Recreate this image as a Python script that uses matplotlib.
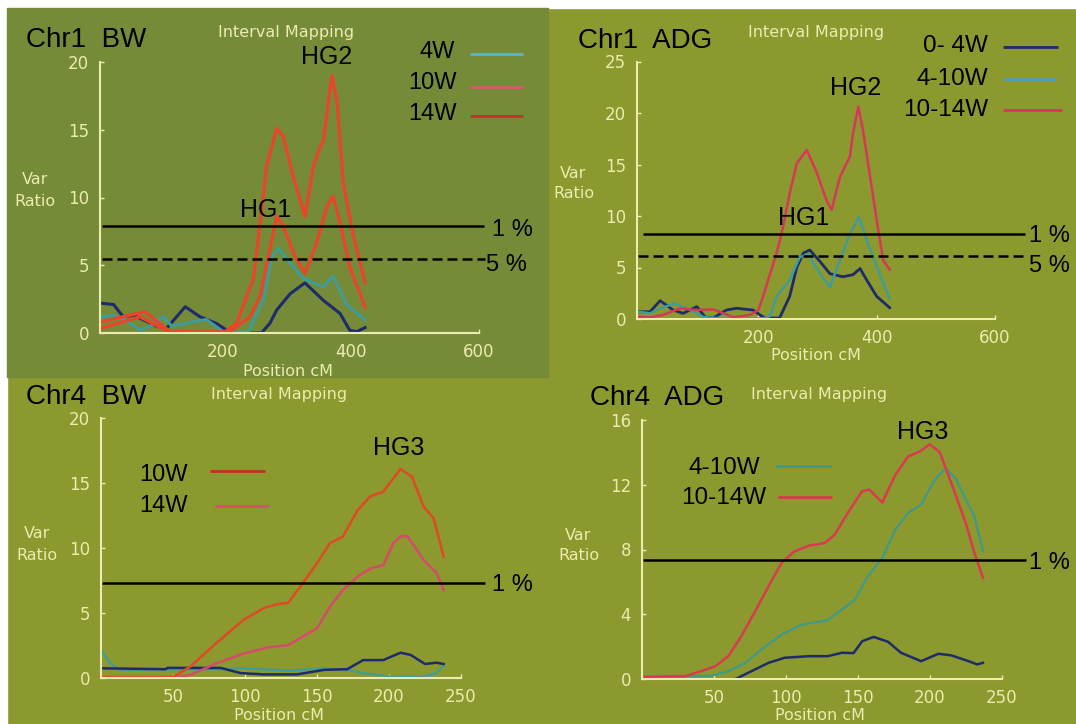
import matplotlib
matplotlib.use('Agg')
import matplotlib.pyplot as plt
from matplotlib.lines import Line2D
from matplotlib.patches import Rectangle
import numpy as np

W, H = 1076, 724
BG = '#8c992e'
BG1 = '#768b38'
PALE = '#ecebb0'
NAVY = '#1d2b6b'
TEAL = '#3f9c98'
ORANGE = '#e8462a'
PINKRED = '#d8365a'
RED10 = '#df4a26'
PINK14 = '#d64a6c'

# ---------------- data ----------------
# Chr1 BW
p1_14w_x = [10, 70, 112, 174, 200, 221, 237, 247, 253, 268, 284, 294, 310, 328, 341, 352, 357, 365, 370, 378, 388, 404, 422]
p1_14w_y = [0.35, 1.2, 0.15, 0.05, 0.0, 0.7, 2.7, 3.9, 6.1, 12.3, 15.1, 14.5, 11.5, 8.6, 12.3, 13.75, 14.2, 17.2, 19.0, 17.2, 11.0, 7.1, 3.7]
p1_10w_x = [10, 78, 117, 160, 211, 242, 258, 268, 284, 294, 310, 328, 346, 362, 372, 383, 398, 422]
p1_10w_y = [0.83, 1.57, 0.1, 0.05, 0.1, 1.2, 2.7, 5.0, 8.6, 7.9, 5.9, 4.4, 6.6, 9.3, 10.1, 8.1, 4.9, 1.9]
p1_4w_x = [10, 30, 50, 70, 90, 107, 120, 150, 174, 201, 240, 253, 263, 276, 286, 305, 326, 357, 372, 393, 422]
p1_4w_y = [1.2, 1.3, 0.9, 0.2, 0.6, 1.2, 0.5, 0.8, 1.0, 0.05, 0.1, 1.45, 2.4, 5.6, 6.25, 5.15, 4.0, 3.4, 4.2, 2.1, 0.96]
p1_nv_x = [10, 29, 44, 60, 70, 96, 112, 141, 164, 190, 206, 221, 260, 273, 284, 305, 328, 357, 383, 398, 409, 422]
p1_nv_y = [2.2, 2.1, 1.2, 1.3, 1.1, 0.5, 0.35, 1.94, 1.2, 0.7, 0.2, 0.0, 0.0, 0.7, 1.7, 2.9, 3.7, 2.4, 1.44, 0.2, 0.1, 0.4]

# Chr1 ADG
p2_1014_x = [-3, 17, 39, 68, 96, 124, 141, 158, 186, 200, 208, 220, 231, 242, 253, 265, 282, 299, 315, 324, 338, 355, 360, 369, 377, 389, 400, 411, 422]
p2_1014_y = [0.22, 0.16, 0.4, 1.04, 0.87, 0.93, 0.55, 0.17, 0.4, 0.87, 2.17, 4.4, 6.4, 8.96, 12.2, 15.1, 16.4, 14.2, 11.55, 10.6, 13.8, 15.8, 18.0, 20.6, 18.3, 13.8, 9.6, 5.7, 4.8]
p2_410_x = [-3, 17, 34, 59, 79, 96, 107, 124, 152, 208, 220, 231, 253, 270, 284, 304, 321, 338, 355, 370, 383, 400, 411, 422]
p2_410_y = [0.7, 0.55, 1.04, 1.5, 1.04, 0.55, 0.2, 0.1, 0.05, 0.05, 0.3, 2.2, 3.8, 6.0, 6.3, 4.4, 3.1, 5.7, 8.3, 9.9, 7.7, 5.1, 3.5, 2.0]
p2_04_x = [-3, 17, 34, 56, 73, 96, 110, 124, 146, 163, 191, 208, 220, 236, 253, 265, 276, 287, 304, 321, 343, 360, 372, 383, 400, 422]
p2_04_y = [0.7, 0.7, 1.78, 0.87, 0.55, 1.2, 0.2, 0.1, 0.87, 1.04, 0.87, 0.2, 0.1, 0.1, 2.2, 5.0, 6.4, 6.7, 5.6, 4.4, 4.1, 4.3, 4.9, 3.8, 2.2, 1.1]

# Chr4 BW
p3_10w_x = [0, 50, 62, 80, 99, 113, 122, 130, 140, 150, 159, 168, 178, 187, 196, 208, 216, 224, 231, 238]
p3_10w_y = [0.1, 0.1, 0.9, 2.7, 4.5, 5.4, 5.7, 5.8, 7.3, 8.85, 10.4, 10.9, 12.9, 14.0, 14.35, 16.1, 15.5, 13.2, 12.3, 9.35]
p3_14w_x = [0, 50, 62, 80, 99, 117, 130, 140, 150, 159, 168, 178, 187, 196, 203, 209, 213, 224, 233, 238]
p3_14w_y = [0.0, 0.1, 0.25, 1.15, 1.9, 2.4, 2.55, 3.2, 3.85, 5.5, 6.8, 7.8, 8.45, 8.7, 10.4, 10.97, 10.9, 9.1, 8.1, 6.8]
p3_nv_x = [0, 45, 46, 83, 97, 113, 136, 155, 171, 182, 196, 208, 215, 225, 233, 238]
p3_nv_y = [0.77, 0.7, 0.8, 0.8, 0.4, 0.3, 0.3, 0.65, 0.7, 1.4, 1.4, 1.97, 1.8, 1.1, 1.2, 1.1]
p3_tl_x = [0, 6, 13, 83, 97, 131, 155, 171, 182, 200, 224, 233, 238]
p3_tl_y = [2.2, 1.2, 0.65, 0.7, 0.77, 0.6, 0.77, 0.65, 0.4, 0.15, 0.1, 0.4, 1.0]

# Chr4 ADG
p4_1014_x = [2, 30, 41, 51, 60, 69, 78, 88, 97, 106, 116, 127, 134, 143, 153, 158, 167, 176, 185, 194, 200, 207, 215, 225, 231, 237]
p4_1014_y = [0.13, 0.17, 0.48, 0.79, 1.41, 2.64, 4.08, 5.73, 7.17, 7.89, 8.24, 8.4, 8.92, 10.26, 11.6, 11.7, 10.9, 12.6, 13.75, 14.1, 14.5, 14.0, 12.1, 9.64, 7.79, 6.25]
p4_410_x = [2, 48, 60, 72, 83, 97, 111, 129, 139, 148, 157, 167, 176, 185, 194, 199, 205, 211, 218, 225, 231, 237]
p4_410_y = [0.13, 0.2, 0.48, 1.0, 1.82, 2.75, 3.36, 3.63, 4.29, 4.9, 6.35, 7.48, 9.23, 10.26, 10.77, 11.6, 12.5, 13.0, 12.4, 11.1, 10.05, 7.9]
p4_04_x = [65, 76, 88, 99, 116, 129, 139, 147, 153, 161, 171, 180, 194, 206, 215, 227, 233, 237]
p4_04_y = [0.0, 0.48, 1.0, 1.31, 1.41, 1.41, 1.62, 1.6, 2.33, 2.6, 2.3, 1.62, 1.1, 1.56, 1.46, 1.1, 0.9, 1.0]

# ---------------- figure ----------------
fig = plt.figure(figsize=(W / 100, H / 100), dpi=100, facecolor=BG)


def fx(x):
    return x / W


def fy(y):
    return 1 - y / H


fig.add_artist(Rectangle((0, fy(8)), 1, 8 / H, transform=fig.transFigure,
                         color='white', zorder=-10))
fig.add_artist(Rectangle((0, 0), 7 / W, 1, transform=fig.transFigure,
                         color='white', zorder=-10))
fig.add_artist(Rectangle((fx(7), fy(377)), (548 - 7) / W, (377 - 8) / H,
                         transform=fig.transFigure, color=BG1, zorder=-9))


def make_ax(l, r, b, t, xlim, ylim, xticks, yticks):
    ax = fig.add_axes([fx(l), fy(b), (r - l) / W, (b - t) / H])
    ax.set_facecolor('none')
    ax.set_xlim(*xlim)
    ax.set_ylim(*ylim)
    for s in ('top', 'right'):
        ax.spines[s].set_visible(False)
    for s in ('left', 'bottom'):
        ax.spines[s].set_color(PALE)
        ax.spines[s].set_linewidth(1.5)
    ax.set_xticks(xticks)
    ax.set_yticks(yticks)
    ax.tick_params(axis='both', colors=PALE, labelcolor=PALE, direction='in',
                   length=3, width=1, labelsize=12)
    ax.tick_params(axis='y', pad=8)
    ax.tick_params(axis='x', pad=7)
    for lab in ax.get_xticklabels() + ax.get_yticklabels():
        lab.set_fontfamily('DejaVu Sans')
    return ax


def T(x, y, s, size=17, color='black', family='Liberation Sans', ha='left', va='center'):
    fig.text(fx(x), fy(y), s, fontsize=size, color=color, family=family, ha=ha, va=va)


def legline(x1, x2, y, color, lw=2.0):
    fig.add_artist(Line2D([fx(x1), fx(x2)], [fy(y), fy(y)], transform=fig.transFigure,
                          color=color, lw=lw, solid_capstyle='butt'))


# ---- Panel 1: Chr1 BW
ax1 = make_ax(100, 479, 333, 62, (7.8, 600), (0, 20), [200, 400, 600], [0, 5, 10, 15, 20])
ax1.plot(p1_nv_x, p1_nv_y, color=NAVY, lw=2.2)
ax1.plot(p1_4w_x, p1_4w_y, color=TEAL, lw=2.2)
ax1.plot(p1_10w_x, p1_10w_y, color=ORANGE, lw=2.4)
ax1.plot(p1_14w_x, p1_14w_y, color=ORANGE, lw=2.4)
ax1.hlines(7.9, 10.5, 608, colors='black', lw=1.8, clip_on=False)
ax1.hlines(5.46, 10.5, 610, colors='black', lw=1.8, linestyles=(0, (4, 2)), clip_on=False)
T(26, 40, 'Chr1  BW', size=20)
T(286, 33, 'Interval Mapping', size=11.5, color=PALE, family='DejaVu Sans', ha='center')
T(327, 57, 'HG2', size=18, ha='center')
T(266, 210, 'HG1', size=18, ha='center')
T(492, 230, '1 %', size=17)
T(486, 265, '5 %', size=17)
T(35, 180, 'Var', size=11.5, color=PALE, family='DejaVu Sans', ha='center')
T(35, 201, 'Ratio', size=11.5, color=PALE, family='DejaVu Sans', ha='center')
T(288, 371, 'Position cM', size=11.5, color=PALE, family='DejaVu Sans', ha='center')
T(455, 52, '4W', size=17, ha='right')
T(457, 83, '10W', size=17, ha='right')
T(457, 114, '14W', size=17, ha='right')
legline(470, 523, 54, '#5ab6c4')
legline(470, 523, 87, '#d85a6e')
legline(470, 523, 116, '#c8302a')

# ---- Panel 2: Chr1 ADG
ax2 = make_ax(637, 995, 319, 61.5, (-5, 600), (0, 25), [200, 400, 600], [0, 5, 10, 15, 20, 25])
ax2.plot(p2_04_x, p2_04_y, color=NAVY, lw=2.0)
ax2.plot(p2_410_x, p2_410_y, color=TEAL, lw=1.8)
ax2.plot(p2_1014_x, p2_1014_y, color=PINKRED, lw=1.8)
ax2.hlines(8.25, 5.6, 651, colors='black', lw=1.8, clip_on=False)
ax2.hlines(6.1, -3, 650, colors='black', lw=1.8, linestyles=(0, (4, 2)), clip_on=False)
T(578, 41, 'Chr1  ADG', size=20)
T(816, 33, 'Interval Mapping', size=11.5, color=PALE, family='DejaVu Sans', ha='center')
T(856, 88, 'HG2', size=18, ha='center')
T(804, 218, 'HG1', size=18, ha='center')
T(1029, 236, '1 %', size=17)
T(1029, 266, '5 %', size=17)
T(573, 173, 'Var', size=11.5, color=PALE, family='DejaVu Sans', ha='center')
T(574, 193, 'Ratio', size=11.5, color=PALE, family='DejaVu Sans', ha='center')
T(816, 356, 'Position cM', size=11.5, color=PALE, family='DejaVu Sans', ha='center')
T(988, 46, '0- 4W', size=17.5, ha='right')
T(988, 79, '4-10W', size=17.5, ha='right')
T(988, 110, '10-14W', size=17.5, ha='right')
legline(1003, 1058, 47, NAVY)
legline(1003, 1056, 79, '#4aa0b0')
legline(1003, 1062, 110, PINKRED)

# ---- Panel 3: Chr4 BW
ax3 = make_ax(101, 461, 678.3, 418.3, (0, 250), (0, 20), [50, 100, 150, 200, 250], [0, 5, 10, 15, 20])
ax3.plot(p3_tl_x, p3_tl_y, color=TEAL, lw=1.6)
ax3.plot(p3_nv_x, p3_nv_y, color=NAVY, lw=1.8)
ax3.plot(p3_14w_x, p3_14w_y, color=PINK14, lw=1.8)
ax3.plot(p3_10w_x, p3_10w_y, color=RED10, lw=1.8)
ax3.hlines(7.35, 0.5, 267, colors='black', lw=1.8, clip_on=False)
T(26, 397, 'Chr4  BW', size=20)
T(279, 394, 'Interval Mapping', size=11.5, color=PALE, family='DejaVu Sans', ha='center')
T(399, 448, 'HG3', size=18, ha='center')
T(492, 585, '1 %', size=17)
T(37, 534, 'Var', size=11.5, color=PALE, family='DejaVu Sans', ha='center')
T(37, 555, 'Ratio', size=11.5, color=PALE, family='DejaVu Sans', ha='center')
T(279, 715, 'Position cM', size=11.5, color=PALE, family='DejaVu Sans', ha='center')
T(139, 475, '10W', size=17)
T(139, 506, '14W', size=17)
legline(210, 265, 471, '#c0302a')
legline(215, 269, 506, '#d8506a')

# ---- Panel 4: Chr4 ADG
ax4 = make_ax(642, 1001.7, 679, 420, (0, 250), (0, 16), [50, 100, 150, 200, 250], [0, 4, 8, 12, 16])
ax4.plot(p4_04_x, p4_04_y, color=NAVY, lw=1.8)
ax4.plot(p4_410_x, p4_410_y, color='#3e9a8a', lw=1.6)
ax4.plot(p4_1014_x, p4_1014_y, color='#d83a50', lw=1.8)
ax4.hlines(7.38, 0.8, 266.7, colors='black', lw=1.8, clip_on=False)
T(590, 398, 'Chr4  ADG', size=20)
T(819, 395, 'Interval Mapping', size=11.5, color=PALE, family='DejaVu Sans', ha='center')
T(923, 432, 'HG3', size=18, ha='center')
T(1029, 563, '1 %', size=17)
T(578, 535, 'Var', size=11.5, color=PALE, family='DejaVu Sans', ha='center')
T(579, 555, 'Ratio', size=11.5, color=PALE, family='DejaVu Sans', ha='center')
T(820, 715, 'Position cM', size=11.5, color=PALE, family='DejaVu Sans', ha='center')
T(760, 468, '4-10W', size=17.5, ha='right')
T(766, 498, '10-14W', size=17.5, ha='right')
legline(776, 831, 466, '#3e9a8a')
legline(778, 832, 497, '#d83a50')

fig.savefig('out.png', dpi=100, facecolor=fig.get_facecolor())
